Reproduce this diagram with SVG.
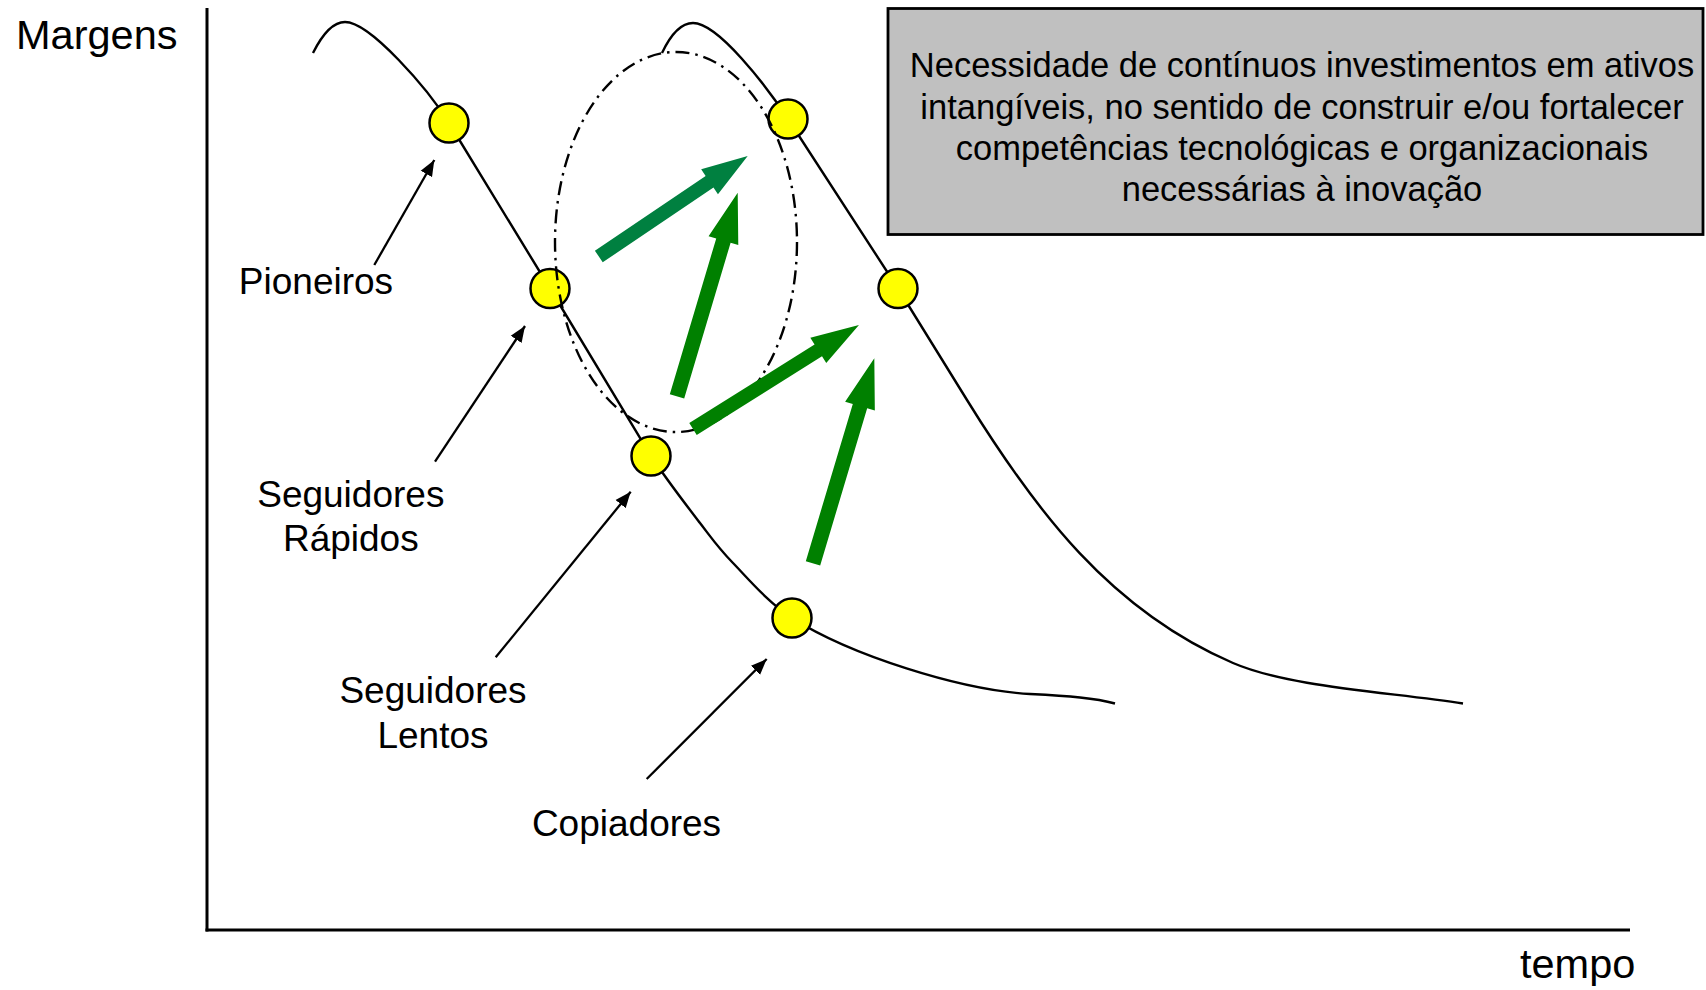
<svg xmlns="http://www.w3.org/2000/svg" width="1706" height="990" viewBox="0 0 1706 990">
<style>
.axis{stroke:#000;stroke-width:3;fill:none}
.curve{stroke:#000;stroke-width:2.4;fill:none}
.node{fill:#FFFF00;stroke:#000;stroke-width:2.5}
.ell{fill:none;stroke:#000;stroke-width:2.4;stroke-dasharray:14 6 2.5 6}
.ptr{stroke:#000;stroke-width:2.3;fill:none;marker-end:url(#ah)}
.lbl{font-family:"Liberation Sans",Arial,sans-serif;font-size:37px;fill:#000;text-anchor:middle}
.ax{font-family:"Liberation Sans",Arial,sans-serif;font-size:41.5px;fill:#000}
.box{fill:#C0C0C0;stroke:#000;stroke-width:2.8}
.boxt{font-family:"Liberation Sans",Arial,sans-serif;font-size:34.5px;fill:#000;text-anchor:middle}
.g1{fill:#008040}
.g2{fill:#008000}
</style>
<defs>
<marker id="ah" markerUnits="userSpaceOnUse" markerWidth="17" markerHeight="14" refX="16" refY="7" orient="auto">
<path d="M0,0.5 L16,7 L0,13.5 z" fill="#000"/>
</marker>
</defs>
<g id="axes">
<line class="axis" x1="207" y1="8" x2="207" y2="931.5"/>
<line class="axis" x1="205.5" y1="930" x2="1630" y2="930"/>
<text class="ax" x="16" y="49">Margens</text>
<text class="ax" x="1520" y="978">tempo</text>
</g>
<g id="curves">
<path class="curve" d="M313,53 C322,35 332,22 345,22 C370,22 428,89 449,123 L550,288.5 L651,456 C667.7,481.2 686.3,505.2 700,523 C713.7,540.8 717.7,547.2 733,563 C748.3,578.8 767.5,601.8 792,618 C850,655 960,690 1030,694 C1070,696 1095,698 1115,703.5"/>
<path class="curve" d="M662,53 C671,34 681,23 693,23 C718,23 766,85.5 788,119 L898,288.5 L967,400 C1035,510 1110,610 1233,663 C1290,687.5 1390,692 1463,703.5"/>
</g>
<g id="node-pioneiros"><circle class="node" cx="449" cy="123" r="19.5"/></g>
<g id="node-rapidos"><circle class="node" cx="550" cy="288.5" r="19.5"/></g>
<g id="node-lentos"><circle class="node" cx="651" cy="456" r="19.5"/></g>
<g id="node-copiadores"><circle class="node" cx="792" cy="618" r="19.5"/></g>
<g id="node-c2-upper"><circle class="node" cx="788" cy="119" r="19.5"/></g>
<g id="node-c2-lower"><circle class="node" cx="898" cy="288.5" r="19.5"/></g>
<g id="ellipse"><ellipse class="ell" cx="676" cy="242" rx="121" ry="190"/></g>
<g id="connectors">
<line class="ptr" x1="374.3" y1="265" x2="434.3" y2="160"/>
<line class="ptr" x1="435" y1="461.7" x2="525" y2="326"/>
<line class="ptr" x1="495.7" y1="657.3" x2="630.7" y2="491.7"/>
<line class="ptr" x1="646.7" y1="779" x2="766.7" y2="659"/>
</g>
<g id="green-arrows">
<polygon class="g1" points="0,-7 133.6,-7 133.6,-15 179.6,0 133.6,15 133.6,7 0,7" transform="translate(598.8,256.5) rotate(-34)"/>
<polygon class="g2" points="0,-7.5 162.5,-7.5 162.5,-15.5 212.5,0 162.5,15.5 162.5,7.5 0,7.5" transform="translate(677,396.3) rotate(-73.4)"/>
<polygon class="g2" points="0,-7 147.9,-7 147.9,-15 195.9,0 147.9,15 147.9,7 0,7" transform="translate(693,429) rotate(-32.1)"/>
<polygon class="g2" points="0,-7.5 164,-7.5 164,-15.5 214,0 164,15.5 164,7.5 0,7.5" transform="translate(813,563.3) rotate(-73.35)"/>
</g>
<g id="labels">
<text class="lbl" x="316" y="294.3">Pioneiros</text>
<text class="lbl" x="350.8" y="506.7">Seguidores</text>
<text class="lbl" x="350.8" y="551">Rápidos</text>
<text class="lbl" x="433" y="702.7">Seguidores</text>
<text class="lbl" x="433" y="747.7">Lentos</text>
<text class="lbl" x="626.5" y="836">Copiadores</text>
</g>
<g id="note-box">
<rect class="box" x="888" y="8.5" width="815" height="226"/>
<text class="boxt" x="1302" y="77.3">Necessidade de contínuos investimentos em ativos</text>
<text class="boxt" x="1302" y="118.5">intangíveis, no sentido de construir e/ou fortalecer</text>
<text class="boxt" x="1302" y="159.6">competências tecnológicas e organizacionais</text>
<text class="boxt" x="1302" y="200.7">necessárias à inovação</text>
</g>
</svg>
